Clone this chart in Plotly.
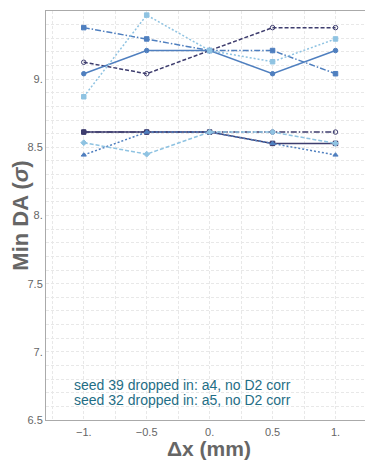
import plotly.graph_objects as go

dx = [-1.0, -0.5, 0.0, 0.5, 1.0]
s_a = [9.04, 9.21, 9.21, 9.04, 9.21]
s_b = [9.124, 9.04, 9.21, 9.378, 9.378]
s_c = [9.378, 9.295, 9.21, 9.21, 9.04]
s_d = [8.871, 9.47, 9.21, 9.128, 9.295]
s_e = [8.612, 8.612, 8.612, 8.529, 8.529]
s_f = [8.612, 8.612, 8.612, 8.612, 8.612]
s_g = [8.444, 8.612, 8.612, 8.529, 8.444]
s_h = [8.534, 8.45, 8.612, 8.612, 8.529]

x_tickvals = [-1.0, -0.5, 0.0, 0.5, 1.0]
x_ticktext = ["\u22121.", "\u22120.5", "0.", "0.5", "1."]
y_tickvals = [6.5, 7.0, 7.5, 8.0, 8.5, 9.0, 9.5]
y_ticktext = ["6.5", "7.", "7.5", "8.", "8.5", "9.", "9.5"]
notes = ["seed 39 dropped in: a4, no D2 corr", "seed 32 dropped in: a5, no D2 corr"]

DARK = "#3e3d6e"
MED = "#4f7fbf"
LIGHT = "#8fc3e2"

DASH = "4px,2px"
DOT = "2px,2px"
DASHDOT = "6px,2px,1.5px,2px"

series = [
    (s_f, DARK, DASHDOT, "circle-open"),
    (s_e, DARK, "solid", "square"),
    (s_b, DARK, DASH, "circle-open"),
    (s_c, MED, DASHDOT, "square"),
    (s_g, MED, DOT, "triangle-up"),
    (s_a, MED, "solid", "circle"),
    (s_h, LIGHT, DASH, "diamond"),
    (s_d, LIGHT, DOT, "square"),
]

fig = go.Figure()
for ys, col, dash, sym in series:
    fig.add_trace(go.Scatter(
        x=dx, y=ys, mode="lines+markers",
        line=dict(color=col, width=1.5, dash=dash),
        marker=dict(color=col, size=4.5, symbol=sym, line=dict(color=col, width=1)),
        showlegend=False,
    ))

for i, t in enumerate(notes):
    fig.add_annotation(x=-1.094, y=6.757 - i * 0.11, xref="x", yref="y", text=t,
                       showarrow=False, xanchor="left", yanchor="middle",
                       font=dict(family="Liberation Sans", size=14, color="#1f6e86"))

grid = "#e8e8e8"
GD = "3px,2px"
fig.update_layout(
    width=365, height=452,
    margin=dict(l=38, r=1, t=3, b=40, autoexpand=False),
    paper_bgcolor="white", plot_bgcolor="white",
    font=dict(family="Liberation Sans", color="#666666"),
    xaxis=dict(range=[-1.3, 1.29], tickvals=x_tickvals, ticktext=x_ticktext,
               showgrid=True, gridcolor=grid, griddash=GD, gridwidth=1,
               minor=dict(dtick=0.25, tick0=0, showgrid=True, gridcolor=grid, griddash=GD),
               showline=True, linecolor="#aaaaaa", mirror=True, zeroline=False,
               ticks="", ticklabelstandoff=2,
               tickfont=dict(size=11, color="#666666"),
               title=dict(text="<b>\u0394x (mm)</b>", font=dict(size=21, color="#666666"), standoff=7)),
    yaxis=dict(range=[6.5, 9.5], tickvals=y_tickvals, ticktext=y_ticktext,
               showgrid=True, gridcolor=grid, griddash=GD, gridwidth=1,
               minor=dict(dtick=0.1, tick0=6.5, showgrid=True, gridcolor=grid, griddash=GD),
               showline=True, linecolor="#aaaaaa", zeroline=False,
               ticks="", ticklabelstandoff=0,
               tickfont=dict(size=11, color="#666666"),
               title=dict(text="<b>Min DA (<i>\u03c3</i>)</b>", font=dict(size=22, color="#666666"), standoff=6)),
)

fig.write_html("out.html")
